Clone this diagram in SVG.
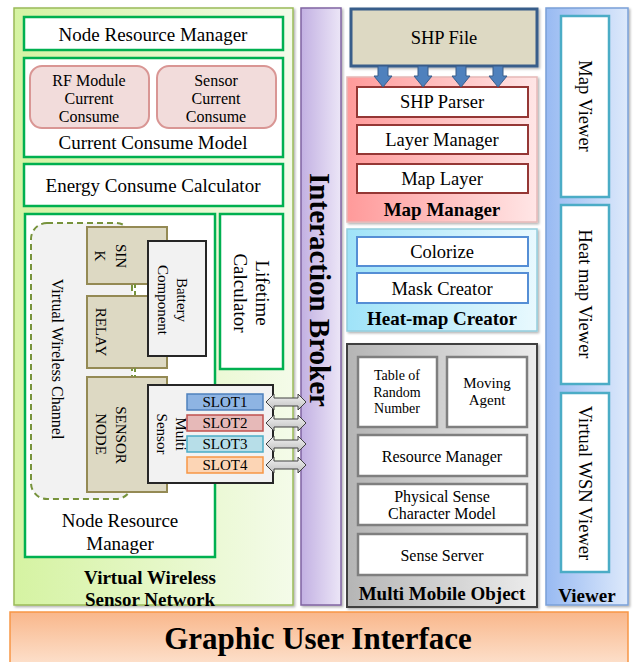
<svg xmlns="http://www.w3.org/2000/svg" width="633" height="662" viewBox="0 0 633 662">
<defs>
<linearGradient id="gLeft" x1="0" y1="0" x2="1" y2="0"><stop offset="0" stop-color="#d5f3a2"/><stop offset="1" stop-color="#f4fbe9"/></linearGradient>
<linearGradient id="gBroker" x1="0" y1="0" x2="1" y2="0"><stop offset="0" stop-color="#c2b0e2"/><stop offset="1" stop-color="#ece6f7"/></linearGradient>
<linearGradient id="gMap" x1="0" y1="0" x2="1" y2="0"><stop offset="0" stop-color="#ff9a9a"/><stop offset="1" stop-color="#ffe6e6"/></linearGradient>
<linearGradient id="gHeat" x1="0" y1="0" x2="1" y2="0"><stop offset="0" stop-color="#9fe3f8"/><stop offset="1" stop-color="#e9f9fe"/></linearGradient>
<linearGradient id="gMMO" x1="0" y1="0" x2="1" y2="0"><stop offset="0" stop-color="#b5b5b5"/><stop offset="1" stop-color="#ececec"/></linearGradient>
<linearGradient id="gView" x1="0" y1="0" x2="1" y2="0"><stop offset="0" stop-color="#98baf2"/><stop offset="1" stop-color="#dde9fb"/></linearGradient>
<linearGradient id="gGui" x1="0" y1="0" x2="0" y2="1"><stop offset="0" stop-color="#f9b78b"/><stop offset="1" stop-color="#fde3d0"/></linearGradient>
<linearGradient id="gArr" x1="0" y1="0" x2="0" y2="1"><stop offset="0" stop-color="#f2f2f2"/><stop offset="1" stop-color="#bfbfbf"/></linearGradient>
<filter id="sh" x="-5%" y="-5%" width="115%" height="115%"><feDropShadow dx="1.5" dy="1.5" stdDeviation="1" flood-color="#000" flood-opacity="0.3"/></filter>
<style>
text{font-family:"Liberation Serif","Times New Roman",serif;fill:#000;text-anchor:middle;dominant-baseline:central}
.t19{font-size:19px}.t18{font-size:18.5px}.t16{font-size:16px}.t15{font-size:15px}.t14{font-size:14px}
.b{font-weight:bold;font-size:19px}
.pan{filter:url(#sh)}
.gbox{fill:#fff;stroke:#00b050;stroke-width:2.5}
.pink{fill:#f2dcdb;stroke:#d99694;stroke-width:2}
.tan{fill:#ddd9c3;stroke:#948a54;stroke-width:2}
.dark{fill:#f2f2f2;stroke:#262626;stroke-width:2}
.red{fill:#fff;stroke:#953735;stroke-width:2}
.blue{fill:#fff;stroke:#558ed5;stroke-width:2}
.grey{fill:#fff;stroke:#7f7f7f;stroke-width:2.5}
.teal{fill:#fff;stroke:#4bacc6;stroke-width:2.5}
.dbl{fill:url(#gArr);stroke:#404040;stroke-width:1}
.barr{fill:#4f81bd;stroke:#385d8a;stroke-width:1}
.dash{stroke:#77933c;stroke-width:2;stroke-dasharray:4 3;fill:none}
</style>
</defs>
<rect width="633" height="662" fill="#fff"/>

<g id="vwsn">
<rect class="pan" x="14" y="8" width="279" height="597" fill="url(#gLeft)" stroke="#9bbb59" stroke-width="1.5"/>
<text class="b" x="150" y="577">Virtual Wireless</text>
<text class="b" x="150" y="599">Sensor Network</text>
</g>
<g id="nrm-top">
<rect class="gbox" x="24" y="17" width="259" height="33"/>
<text class="t19" x="153" y="34">Node Resource Manager</text>
</g>
<g id="ccm">
<rect class="gbox" x="24" y="58" width="259" height="99"/>
<text class="t19" x="153" y="142">Current Consume Model</text>
</g>
<g id="rf">
<rect class="pink" x="30" y="66" width="119" height="62" rx="12"/>
<text class="t16" x="89" y="80">RF Module</text>
<text class="t16" x="89" y="98">Current</text>
<text class="t16" x="89" y="116">Consume</text>
</g>
<g id="sensorcc">
<rect class="pink" x="157" y="66" width="119" height="62" rx="12"/>
<text class="t16" x="216" y="80">Sensor</text>
<text class="t16" x="216" y="98">Current</text>
<text class="t16" x="216" y="116">Consume</text>
</g>
<g id="ecc">
<rect class="gbox" x="24" y="164" width="259" height="42"/>
<text class="t19" x="153" y="185">Energy Consume Calculator</text>
</g>
<g id="nrm">
<rect class="gbox" x="25" y="214" width="190" height="343"/>
<text class="t19" x="120" y="520">Node Resource</text>
<text class="t19" x="120" y="543">Manager</text>
</g>
<g id="lifetime">
<rect class="gbox" x="220" y="214" width="63" height="155"/>
<text class="t19" transform="translate(262,293) rotate(90)">Lifetime</text>
<text class="t19" transform="translate(240,293) rotate(90)">Calculator</text>
</g>
<g id="vwc">
<rect x="31" y="223" width="101" height="276" rx="16" fill="#f2f2f2" stroke="#77933c" stroke-width="2" stroke-dasharray="6 4"/>
<text class="t16" transform="translate(57,359) rotate(90)">Virtual Wireless Channel</text>
</g>
<g id="sink">
<rect class="tan" x="87" y="227" width="80" height="57"/>
<text class="t15" transform="translate(121,256) rotate(90)">SIN</text>
<text class="t15" transform="translate(100,256) rotate(90)">K</text>
</g>
<g id="relay">
<rect class="tan" x="87" y="296" width="80" height="72"/>
<text class="t15" transform="translate(101,332) rotate(90)">RELAY</text>
</g>
<g id="sensornode">
<rect class="tan" x="87" y="377" width="80" height="115"/>
<text class="t15" transform="translate(121,435) rotate(90)">SENSOR</text>
<text class="t15" transform="translate(101,434) rotate(90)">NODE</text>
</g>
<g id="battery">
<rect class="dark" x="148" y="241" width="58" height="115"/>
<text class="t15" transform="translate(182,300) rotate(90)">Battery</text>
<text class="t15" transform="translate(163,300) rotate(90)">Component</text>
</g>
<g id="multisensor">
<rect class="dark" x="148" y="385" width="125" height="98"/>
<text class="t15" transform="translate(181,434) rotate(90)">Multi</text>
<text class="t15" transform="translate(162,434) rotate(90)">Sensor</text>
</g>
<g id="slot1"><rect x="187" y="394" width="76" height="16" fill="#8eb4e3" stroke="#4f81bd" stroke-width="1.5"/><text class="t15" x="225" y="402">SLOT1</text></g>
<g id="slot2"><rect x="187" y="415" width="76" height="16" fill="#e6b9b8" stroke="#c0504d" stroke-width="1.5"/><text class="t15" x="225" y="423">SLOT2</text></g>
<g id="slot3"><rect x="187" y="436" width="76" height="16" fill="#b7dee8" stroke="#4bacc6" stroke-width="1.5"/><text class="t15" x="225" y="444">SLOT3</text></g>
<g id="slot4"><rect x="187" y="457" width="76" height="16" fill="#fcd5b5" stroke="#f79646" stroke-width="1.5"/><text class="t15" x="225" y="465">SLOT4</text></g>

<g id="broker">
<rect class="pan" x="301" y="8" width="40" height="597" fill="url(#gBroker)" stroke="#8064a2" stroke-width="1.5"/>
<text class="b" style="font-size:29px" transform="translate(320,290) rotate(90)">Interaction Broker</text>
</g>

<g id="mapmanager">
<rect class="pan" x="347" y="77" width="190" height="145" fill="url(#gMap)" stroke="#e6b9b8" stroke-width="1.5"/>
<text class="b" x="442" y="209">Map Manager</text>
</g>
<g id="shpfile">
<rect class="pan" x="351" y="9" width="186" height="57" fill="#ddd9c3" stroke="#385d8a" stroke-width="3"/>
<text class="t18" x="444" y="38">SHP File</text>
</g>
<g id="shpparser"><rect class="red" x="357" y="87" width="171" height="30"/><text class="t18" x="442" y="102">SHP Parser</text></g>
<g id="layermanager"><rect class="red" x="357" y="125" width="171" height="29"/><text class="t18" x="442" y="140">Layer Manager</text></g>
<g id="maplayer"><rect class="red" x="357" y="164" width="171" height="29"/><text class="t18" x="442" y="179">Map Layer</text></g>

<g id="heatmap">
<rect class="pan" x="347" y="229" width="190" height="102" fill="url(#gHeat)" stroke="#93cddd" stroke-width="1.5"/>
<text class="b" x="442" y="318">Heat-map Creator</text>
</g>
<g id="colorize"><rect class="blue" x="357" y="237" width="171" height="29"/><text class="t18" x="442" y="252">Colorize</text></g>
<g id="maskcreator"><rect class="blue" x="357" y="273" width="171" height="30"/><text class="t18" x="442" y="289">Mask Creator</text></g>

<g id="mmo">
<rect class="pan" x="347" y="344" width="190" height="263" fill="url(#gMMO)" stroke="#404040" stroke-width="2"/>
<text class="b" x="442" y="593">Multi Mobile Object</text>
</g>
<g id="table"><rect class="grey" x="358" y="357" width="79" height="70"/>
<text class="t14" x="397" y="375">Table of</text><text class="t14" x="397" y="392">Random</text><text class="t14" x="397" y="408">Number</text></g>
<g id="moving"><rect class="grey" x="447" y="357" width="80" height="70"/>
<text class="t15" x="487" y="383">Moving</text><text class="t15" x="487" y="400">Agent</text></g>
<g id="resmgr"><rect class="grey" x="358" y="435" width="169" height="41"/><text class="t16" x="442" y="456">Resource Manager</text></g>
<g id="physical"><rect class="grey" x="358" y="484" width="169" height="41"/>
<text class="t16" x="442" y="496">Physical Sense</text><text class="t16" x="442" y="513">Character Model</text></g>
<g id="senseserver"><rect class="grey" x="358" y="534" width="169" height="41"/><text class="t16" x="442" y="555">Sense Server</text></g>

<g id="viewer">
<rect class="pan" x="546" y="8" width="82" height="597" fill="url(#gView)" stroke="#7aa0d8" stroke-width="1.5"/>
<text class="b" x="587" y="595">Viewer</text>
</g>
<g id="mapviewer"><rect class="teal" x="561" y="16" width="48" height="181"/><text class="t18" transform="translate(585,106) rotate(90)">Map Viewer</text></g>
<g id="heatviewer"><rect class="teal" x="561" y="205" width="48" height="179"/><text class="t18" transform="translate(585,294) rotate(90)">Heat map Viewer</text></g>
<g id="wsnviewer"><rect class="teal" x="561" y="393" width="48" height="179"/><text class="t18" transform="translate(585,483) rotate(90)">Virtual WSN Viewer</text></g>

<g id="gui">
<rect x="10" y="612" width="618" height="56" fill="url(#gGui)" stroke="#f79646" stroke-width="1.5"/>
<text class="b" style="font-size:31px" x="318" y="638">Graphic User Interface</text>
</g>

<g id="connectors">
<line class="dash" x1="135" y1="284" x2="135" y2="296"/>
<line class="dash" x1="135" y1="368" x2="135" y2="377"/>
<path class="dbl" d="M266,402 L274,394 L274,398 L298,398 L298,394 L306,402 L298,410 L298,406 L274,406 L274,410 Z"/>
<path class="dbl" d="M266,423 L274,415 L274,419 L298,419 L298,415 L306,423 L298,431 L298,427 L274,427 L274,431 Z"/>
<path class="dbl" d="M266,444 L274,436 L274,440 L298,440 L298,436 L306,444 L298,452 L298,448 L274,448 L274,452 Z"/>
<path class="dbl" d="M266,465 L274,457 L274,461 L298,461 L298,457 L306,465 L298,473 L298,469 L274,469 L274,473 Z"/>
<path class="barr" d="M378,66 L388,66 L388,76 L392,76 L383,87 L374,76 L378,76 Z"/>
<path class="barr" d="M418,66 L428,66 L428,76 L432,76 L423,87 L414,76 L418,76 Z"/>
<path class="barr" d="M456,66 L466,66 L466,76 L470,76 L461,87 L452,76 L456,76 Z"/>
<path class="barr" d="M493,66 L503,66 L503,76 L507,76 L498,87 L489,76 L493,76 Z"/>
</g>
</svg>
